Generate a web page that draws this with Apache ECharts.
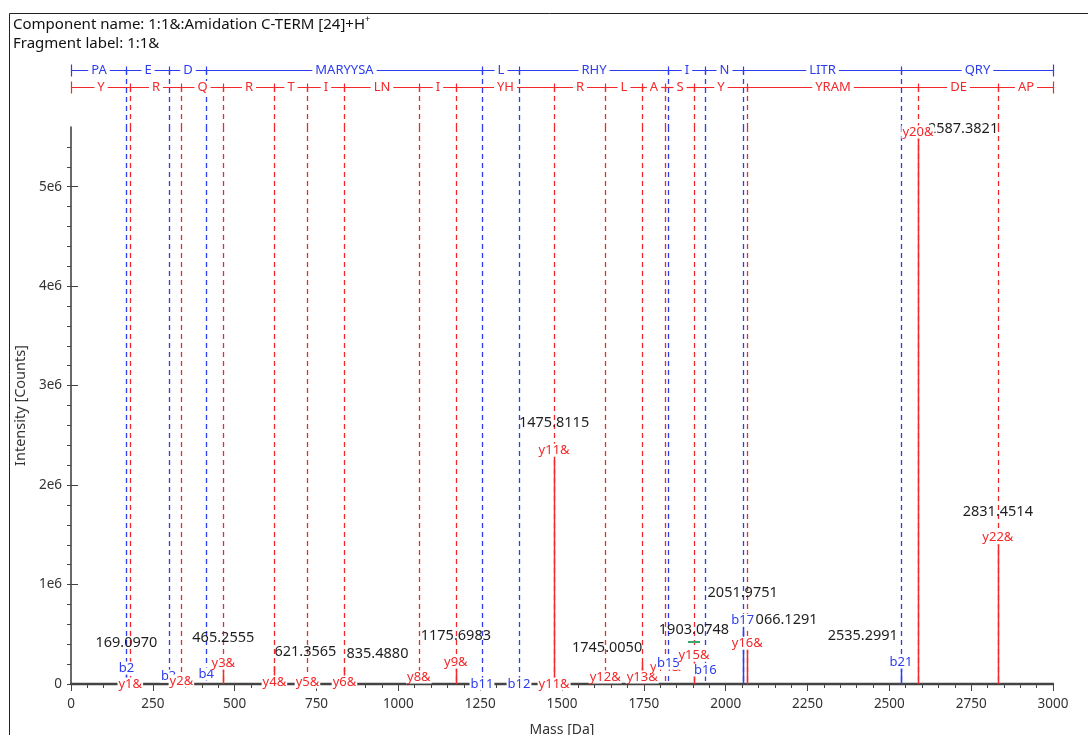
<!DOCTYPE html>
<html>
<head>
<meta charset="utf-8">
<title>Fragment spectrum</title>
<script src="https://cdn.jsdelivr.net/npm/echarts@6.0.0/dist/echarts.min.js"></script>
<style>
  html, body { margin: 0; padding: 0; background: #ffffff; }
  #chart { width: 1088px; height: 735px; }
</style>
</head>
<body>
<div id="chart"></div>
<script>
// ---- theoretical fragment ions (1+, amidated C-terminus) ----
const bIonNames = ['b2', 'b3', 'b4', 'b11', 'b12', 'b15', 'b16', 'b17', 'b21'];
const bIonMasses = [169.0972, 298.1398, 413.1667, 1255.5412, 1368.6253, 1824.8486, 1937.9327, 2051.9756, 2535.2925];
const yIonNames = ['y1&', 'y2&', 'y3&', 'y4&', 'y5&', 'y6&', 'y8&', 'y9&', 'y11&', 'y12&', 'y13&', 'y14&', 'y15&', 'y16&', 'y20&', 'y22&'];
const yIonMasses = [181.0972, 337.1983, 465.2569, 621.3580, 722.4057, 835.4897, 1062.6167, 1175.7008, 1475.8230, 1631.9241, 1745.0082, 1816.0453, 1903.0773, 2066.1406, 2587.3826, 2831.4521];

// residues spanned between consecutive ladder breaks
const bLadderResidues = ['PA', 'E', 'D', 'MARYYSA', 'L', 'RHY', 'I', 'N', 'LITR', 'QRY'];
const yLadderResidues = ['Y', 'R', 'Q', 'R', 'T', 'I', 'LN', 'I', 'YH', 'R', 'L', 'A', 'S', 'Y', 'YRAM', 'DE', 'AP'];
const ladderStartMass = 1.0073;
const precursorMass = 2999.52;

// ---- observed peaks carrying a mass label ----
const peakMasses = [169.0970, 465.2555, 621.3565, 835.4880, 1175.6983, 1475.8115, 1745.0050, 1903.0748, 2051.9751, 2066.1291, 2535.2991, 2587.3821, 2831.4514];
const peakIntensities = [160000, 210000, 180000, 160000, 220000, 2350000, 220000, 290000, 640000, 410000, 220000, 5550000, 1470000];
const peakIons = ['b2', 'y3&', '', '', 'y9&', 'y11&', '', 'y15&', 'b17', 'y16&', 'b21', 'y20&', 'y22&'];

// ---- highlighted centroid ----
const markerMass = 1903.0748;
const markerIntensity = 420000;

// ---- intensity axis labels ----
const intensityTickValues = [0, 1e6, 2e6, 3e6, 4e6, 5e6];
const intensityTickLabels = ['0', '1e6', '2e6', '3e6', '4e6', '5e6'];

// ---- annotation layout ----
// level (in counts) at which the ion tag of each unlabelled ion is centred; null = tagged on its peak
const bTagLevels = [null, 80000, 100000, 0, 0, 210000, 140000, null, null];
const yTagLevels = [0, 30000, null, 20000, 20000, 20000, 70000, null, 0, 70000, 70000, 170000, null, null, null, null];
// [align, dx, dy] of each peak's mass label, in pixels from the peak apex
const massLabelPlacement = [
  ['center', 0, -25], ['center', 0, -25], ['left', 0, -14], ['left', 2, -14],
  ['center', 0, -26], ['center', 0, -27], ['right', 0, -14], ['center', 0, -25],
  ['center', 0, -27], ['left', 0, -23], ['right', -3, -26], ['left', 10, -3],
  ['center', 0, -26]
];

const BLUE = '#2b3ded';
const RED = '#f2282a';
const GREEN = '#3aa86b';
const AXIS = '#444444';
const FONT = '"Noto Sans", "Open Sans", sans-serif';
const Y_MAX = 5.6e6;
const LADDER_ROW = { b: 57, y: 40 };   // ladder rows in the ladder panel's units
const LADDER_TOP = 65;

const crisp = v => Math.round(v) + 0.5;

function ionKind(mass) {
  if (bIonMasses.some(m => Math.abs(m - mass) < 0.03)) return 'b';
  return 'y';
}

// ladder segments
function buildSegments(masses, residues, kind) {
  const bounds = [ladderStartMass].concat(masses, [precursorMass]);
  return residues.map((r, i) => ({
    start: bounds[i], end: bounds[i + 1], text: r, kind: kind,
    first: i === 0, last: i === residues.length - 1
  }));
}
const segments = buildSegments(bIonMasses, bLadderResidues, 'b')
  .concat(buildSegments(yIonMasses, yLadderResidues, 'y'));

// ion tags, drawn in mass order so later tags sit over earlier ones
const tags = [];
bIonNames.forEach((n, i) => { if (bTagLevels[i] !== null) tags.push({ mass: bIonMasses[i], level: bTagLevels[i], name: n, kind: 'b' }); });
yIonNames.forEach((n, i) => { if (yTagLevels[i] !== null) tags.push({ mass: yIonMasses[i], level: yTagLevels[i], name: n, kind: 'y' }); });
peakIons.forEach((n, i) => { if (n) tags.push({ mass: peakMasses[i], level: peakIntensities[i], name: n, kind: n.charAt(0) === 'b' ? 'b' : 'y' }); });
tags.sort((a, b) => a.mass - b.mass);

function dashedRenderer(color, topValue) {
  return function (params, api) {
    const m = api.value(0);
    const p0 = api.coord([m, 0]);
    const p1 = api.coord([m, topValue]);
    const x = crisp(p0[0]);
    return {
      type: 'line', silent: true,
      shape: { x1: x, y1: p1[1], x2: x, y2: p0[1] },
      style: { stroke: color, lineWidth: 1.3, lineDash: [5, 4] }
    };
  };
}

const chart = echarts.init(document.getElementById('chart'), null, { renderer: 'canvas' });

const option = {
  backgroundColor: '#ffffff',
  animation: false,
  textStyle: { fontFamily: FONT },
  grid: [
    { left: 71, right: 35, top: 127, bottom: 51, outerBoundsMode: 'none', containLabel: false },
    { left: 71, right: 35, top: 62, height: 65, outerBoundsMode: 'none', containLabel: false }
  ],
  xAxis: [
    {
      gridIndex: 0, type: 'value', min: 0, max: 3000, interval: 250,
      axisLine: { show: true, onZero: false, lineStyle: { color: AXIS, width: 2.4 } },
      axisTick: { show: true, length: 7, lineStyle: { color: AXIS, width: 1 } },
      minorTick: { show: true, splitNumber: 5, length: 4, lineStyle: { color: AXIS, width: 1 } },
      splitLine: { show: false },
      minorSplitLine: { show: false },
      axisLabel: { color: '#333', fontSize: 13.5, margin: 13, fontFamily: FONT, formatter: v => String(v) },
      name: 'Mass [Da]', nameLocation: 'middle', nameGap: 39,
      nameTextStyle: { color: '#333', fontSize: 14, fontFamily: FONT }
    },
    { gridIndex: 1, type: 'value', min: 0, max: 3000, show: false }
  ],
  yAxis: [
    {
      gridIndex: 0, type: 'value', min: 0, max: Y_MAX, interval: 2e5,
      axisLine: { show: true, onZero: false, lineStyle: { color: AXIS, width: 1.6 } },
      axisTick: { show: true, length: 4, lineStyle: { color: AXIS, width: 1 } },
      splitLine: { show: false },
      axisLabel: {
        color: '#333', fontSize: 13.5, margin: 9, fontFamily: FONT,
        showMaxLabel: false,
        formatter: function (v) {
          const k = intensityTickValues.findIndex(t => Math.abs(t - v) < 1);
          return k >= 0 ? intensityTickLabels[k] : '';
        }
      },
      name: 'Intensity [Counts]', nameLocation: 'middle', nameGap: 43,
      nameTextStyle: { color: '#333', fontSize: 14.5, fontFamily: FONT }
    },
    {
      gridIndex: 0, type: 'value', min: 0, max: Y_MAX, interval: 1e6,
      axisLine: { show: false },
      axisTick: { show: true, length: 7, customValues: intensityTickValues, lineStyle: { color: AXIS, width: 1 } },
      axisLabel: { show: false },
      splitLine: { show: false }
    },
    { gridIndex: 1, type: 'value', min: 0, max: LADDER_TOP, show: false }
  ],
  graphic: [
    {
      type: 'rect', silent: true, z: -10,
      shape: { x: 9.5, y: 13.5, width: 1200, height: 1000 },
      style: { fill: 'transparent', stroke: '#222', lineWidth: 1 }
    },
    {
      type: 'text', x: 13, y: 15, silent: true,
      style: {
        text: '{m|Component name: 1:1&:Amidation C-TERM [24]+H}{s|+}',
        rich: {
          m: { fontSize: 15, fontFamily: FONT, fill: '#111', lineHeight: 19 },
          s: { fontSize: 9, fontFamily: FONT, fill: '#111', padding: [0, 0, 10, 0] }
        }
      }
    },
    {
      type: 'text', x: 13, y: 36, silent: true,
      style: { text: 'Fragment label: 1:1&', fontSize: 15, fontFamily: FONT, fill: '#111' }
    }
  ],
  series: [
    // dashed ion positions across the spectrum
    {
      type: 'custom', name: 'b ions', xAxisIndex: 0, yAxisIndex: 0, z: 2, silent: true,
      data: bIonMasses.map(m => [m, 0]), renderItem: dashedRenderer(BLUE, Y_MAX)
    },
    {
      type: 'custom', name: 'y ions', xAxisIndex: 0, yAxisIndex: 0, z: 2, silent: true,
      data: yIonMasses.map(m => [m, 0]), renderItem: dashedRenderer(RED, Y_MAX)
    },
    // their continuation up to the sequence ladders
    {
      type: 'custom', name: 'b ladder drop', xAxisIndex: 1, yAxisIndex: 2, z: 2, silent: true,
      data: bIonMasses.map(m => [m, 0]), renderItem: dashedRenderer(BLUE, LADDER_ROW.b)
    },
    {
      type: 'custom', name: 'y ladder drop', xAxisIndex: 1, yAxisIndex: 2, z: 2, silent: true,
      data: yIonMasses.map(m => [m, 0]), renderItem: dashedRenderer(RED, LADDER_ROW.y)
    },
    // sequence ladders
    {
      type: 'custom', name: 'ladder', xAxisIndex: 1, yAxisIndex: 2, z: 4, silent: true,
      data: segments.map(s => [s.start, s.end, LADDER_ROW[s.kind]]),
      encode: { x: [0, 1], y: 2 },
      renderItem: function (params, api) {
        const s = segments[params.dataIndex];
        const color = s.kind === 'b' ? BLUE : RED;
        const p0 = api.coord([s.start, LADDER_ROW[s.kind]]);
        const p1 = api.coord([s.end, LADDER_ROW[s.kind]]);
        const y = crisp(p0[1]);
        const x0 = crisp(p0[0]), x1 = crisp(p1[0]);
        const h0 = s.first ? 6 : 4;
        const children = [
          { type: 'line', shape: { x1: x0, y1: y, x2: x1, y2: y }, style: { stroke: color, lineWidth: 1.2 } },
          { type: 'line', shape: { x1: x0, y1: y - h0, x2: x0, y2: y + h0 }, style: { stroke: color, lineWidth: 1.2 } }
        ];
        if (s.last) {
          children.push({ type: 'line', shape: { x1: x1, y1: y - 6, x2: x1, y2: y + 6 }, style: { stroke: color, lineWidth: 1.2 } });
        }
        children.push({
          type: 'text', x: (x0 + x1) / 2, y: y,
          style: {
            text: s.text, fill: color, fontSize: 13, fontFamily: FONT,
            align: 'center', verticalAlign: 'middle',
            backgroundColor: '#ffffff', padding: [0, 3]
          }
        });
        return { type: 'group', children: children };
      }
    },
    // observed peaks with mass labels
    {
      type: 'custom', name: 'peaks', xAxisIndex: 0, yAxisIndex: 0, z: 5, silent: true,
      data: peakMasses.map((m, i) => [m, peakIntensities[i]]),
      renderItem: function (params, api) {
        const i = params.dataIndex;
        const m = api.value(0), v = api.value(1);
        const base = api.coord([m, 0]);
        const top = api.coord([m, v]);
        const x = crisp(base[0]);
        const color = ionKind(m) === 'b' ? BLUE : RED;
        const pl = massLabelPlacement[i];
        return {
          type: 'group',
          children: [
            { type: 'line', shape: { x1: x, y1: top[1], x2: x, y2: base[1] }, style: { stroke: color, lineWidth: 1.5 } },
            {
              type: 'text', x: base[0] + pl[1], y: top[1] + pl[2],
              style: {
                text: m.toFixed(4), fill: '#1e1e1e', fontSize: 14.5, fontFamily: FONT,
                align: pl[0], verticalAlign: 'middle'
              }
            }
          ]
        };
      }
    },
    // ion tags
    {
      type: 'custom', name: 'tags', xAxisIndex: 0, yAxisIndex: 0, z: 6, silent: true,
      data: tags.map(t => [t.mass, t.level]),
      renderItem: function (params, api) {
        const t = tags[params.dataIndex];
        const p = api.coord([api.value(0), api.value(1)]);
        return {
          type: 'text', x: p[0], y: p[1],
          style: {
            text: t.name, fill: t.kind === 'b' ? BLUE : RED, fontSize: 13, fontFamily: FONT,
            align: 'center', verticalAlign: 'middle',
            backgroundColor: '#ffffff', padding: [0, 1]
          }
        };
      }
    },
    // highlighted centroid marker
    {
      type: 'custom', name: 'marker', xAxisIndex: 0, yAxisIndex: 0, z: 7, silent: true,
      data: [[markerMass, markerIntensity]],
      renderItem: function (params, api) {
        const p = api.coord([api.value(0), api.value(1)]);
        const y = Math.round(p[1]);
        return {
          type: 'line', shape: { x1: p[0] - 6, y1: y, x2: p[0] + 6, y2: y },
          style: { stroke: GREEN, lineWidth: 2 }
        };
      }
    }
  ]
};

chart.setOption(option);
</script>
</body>
</html>
